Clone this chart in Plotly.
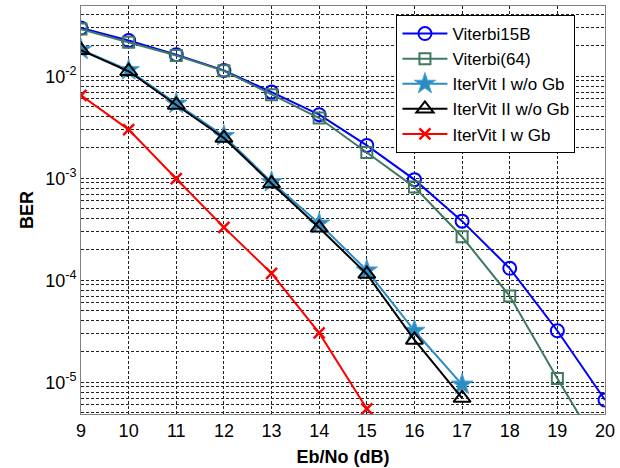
import plotly.graph_objects as go

ebno = [9, 10, 11, 12, 13, 14, 15, 16, 17, 18, 19, 20]

viterbi15b = [0.0297, 0.0224, 0.0163, 0.0114, 0.0070, 0.0042, 0.0021, 0.00097, 0.00038, 0.000131, 3.2e-5, 6.7e-6]
viterbi64 = [0.0290, 0.0215, 0.0160, 0.0113, 0.0066, 0.0039, 0.00179, 0.00082, 0.000267, 7.0e-5, 1.09e-5, 1.8e-6]

ebno_iter = [9, 10, 11, 12, 13, 14, 15, 16, 17]
itervit1_nogb = [0.0182, 0.0115, 0.0054, 0.0026, 0.00092, 0.00036, 0.000125, 3.2e-5, 9.5e-6]
itervit2_nogb = [0.0180, 0.0112, 0.00523, 0.00248, 0.000887, 0.000327, 0.000115, 2.6e-5, 7.0e-6]

ebno_gb = [9, 10, 11, 12, 13, 14, 15]
itervit1_gb = [0.0065, 0.0030, 0.00099, 0.00033, 0.000117, 3.05e-5, 5.5e-6]

ytick_vals = [1e-5, 1e-4, 1e-3, 1e-2]
ytick_text = ["10<sup>-5</sup>", "10<sup>-4</sup>", "10<sup>-3</sup>", "10<sup>-2</sup>"]
xtick_vals = list(range(9, 21))

FONT = "Liberation Sans, Arial, sans-serif"

fig = go.Figure()
fig.add_trace(go.Scatter(x=ebno, y=viterbi15b, name="Viterbi15B", mode="lines+markers",
                         line=dict(color="#0000ff", width=2),
                         marker=dict(symbol="circle-open", size=13, color="#0000ff", line=dict(width=2))))
fig.add_trace(go.Scatter(x=ebno, y=viterbi64, name="Viterbi(64)", mode="lines+markers",
                         line=dict(color="#3f7a5f", width=2),
                         marker=dict(symbol="square-open", size=11, color="#3f7a5f", line=dict(width=2))))
fig.add_trace(go.Scatter(x=ebno_iter, y=itervit1_nogb, name="IterVit I w/o Gb", mode="lines+markers",
                         line=dict(color="#2b8cc4", width=2),
                         marker=dict(symbol="star", size=16, color="#2b8cc4", line=dict(width=1, color="#4aa3d6"))))
fig.add_trace(go.Scatter(x=ebno_iter, y=itervit2_nogb, name="IterVit II w/o Gb", mode="lines+markers",
                         line=dict(color="#000000", width=2),
                         marker=dict(symbol="triangle-up-open", size=15, color="#000000", line=dict(width=2))))
fig.add_trace(go.Scatter(x=ebno_gb, y=itervit1_gb, name="IterVit I w Gb", mode="lines+markers",
                         line=dict(color="#ff0000", width=2),
                         marker=dict(symbol="x-thin-open", size=11, color="#ff0000", line=dict(width=2.5, color="#ff0000"))))

grid_common = dict(gridcolor="#222222", griddash="3px,2px", gridwidth=1)

fig.update_xaxes(range=[9, 20], tickvals=xtick_vals, ticktext=[str(v) for v in xtick_vals],
                 showgrid=True, **grid_common, zeroline=False,
                 showline=True, linecolor="#808080", linewidth=1, mirror=True,
                 ticks="", tickfont=dict(family=FONT, size=18, color="#000"),
                 title=dict(text="<b>Eb/No (dB)</b>", font=dict(family=FONT, size=18, color="#000"), standoff=10))
fig.update_yaxes(type="log", range=[-5.311, -1.311], tickvals=ytick_vals, ticktext=ytick_text,
                 showgrid=True, **grid_common, zeroline=False,
                 minor=dict(dtick="D1", showgrid=True, gridcolor="#222222", griddash="3px,2px", gridwidth=1, ticks=""),
                 showline=True, linecolor="#808080", linewidth=1, mirror=True,
                 ticks="", tickfont=dict(family=FONT, size=18, color="#000"),
                 title=dict(text="<b>BER</b>", font=dict(family=FONT, size=18, color="#000"), standoff=6))

fig.update_layout(
    width=620, height=468,
    margin=dict(l=81, r=14, t=5, b=52),
    paper_bgcolor="white", plot_bgcolor="white",
    font=dict(family=FONT, size=18, color="#000"),
    legend=dict(x=0.602, y=0.978, xanchor="left", yanchor="top",
                bgcolor="white", bordercolor="#000", borderwidth=1,
                font=dict(family=FONT, size=17, color="#000"), itemwidth=45,
                tracegroupgap=0),
    showlegend=True,
)

fig.write_html("out.html", config={"displayModeBar": False},
               post_script="document.body.style.margin='0';document.body.style.overflow='hidden';")
